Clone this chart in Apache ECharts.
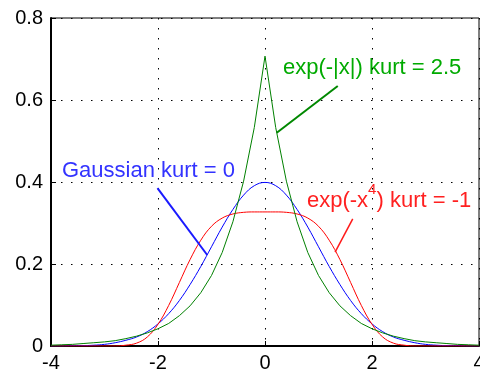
<!DOCTYPE html>
<html lang="en">
<head>
    <meta charset="UTF-8">
    <title>kurtosis</title>
    <script src="https://cdn.jsdelivr.net/npm/echarts@6/dist/echarts.min.js"></script>
    <style>
        html, body { margin: 0; padding: 0; background: #fff; }
        #main { width: 480px; height: 379px; }
    </style>
</head>
<body>
<div id="main"></div>
<script>
    // x positions, step 0.2 from -4 to 4
    var xs = [-4, -3.8, -3.6, -3.4, -3.2, -3, -2.8, -2.6, -2.4, -2.2, -2, -1.8, -1.6, -1.4, -1.2, -1, -0.8, -0.6, -0.4, -0.2,
        0, 0.2, 0.4, 0.6, 0.8, 1, 1.2, 1.4, 1.6, 1.8, 2, 2.2, 2.4, 2.6, 2.8, 3, 3.2, 3.4, 3.6, 3.8, 4];
    // values
    var gauss = [0.000, 0.000, 0.001, 0.001, 0.002, 0.004, 0.008, 0.014, 0.022, 0.035, 0.054, 0.079, 0.111, 0.150, 0.194, 0.242, 0.290, 0.333, 0.368, 0.391,
        0.399, 0.391, 0.368, 0.333, 0.290, 0.242, 0.194, 0.150, 0.111, 0.079, 0.054, 0.035, 0.022, 0.014, 0.008, 0.004, 0.002, 0.001, 0.001, 0.000, 0.000];
    var laplace = [0.002, 0.003, 0.004, 0.006, 0.008, 0.010, 0.013, 0.018, 0.024, 0.032, 0.042, 0.055, 0.074, 0.098, 0.130, 0.172, 0.228, 0.303, 0.402, 0.533,
        0.707, 0.533, 0.402, 0.303, 0.228, 0.172, 0.130, 0.098, 0.074, 0.055, 0.042, 0.032, 0.024, 0.018, 0.013, 0.010, 0.008, 0.006, 0.004, 0.003, 0.002];
    var quartic = [0, 0, 0, 0, 0, 0, 0.000, 0.002, 0.007, 0.022, 0.053, 0.099, 0.155, 0.211, 0.258, 0.292, 0.312, 0.322, 0.326, 0.327,
        0.327, 0.327, 0.326, 0.322, 0.312, 0.292, 0.258, 0.211, 0.155, 0.099, 0.053, 0.022, 0.007, 0.002, 0.000, 0, 0, 0, 0, 0, 0];

    // pointer lines for the labels, in data units
    var greenPtr = [[1.36, 0.634], [0.22, 0.52]];
    var bluePtr = [[-2.01, 0.385], [-1.08, 0.222]];
    var redPtr = [[1.64, 0.31], [1.31, 0.229]];

    function pairs(v) {
        var out = [];
        for (var i = 0; i < xs.length; i++) {
            out.push([xs[i], v[i]]);
        }
        return out;
    }

    var font = '"Liberation Sans", Arial, sans-serif';
    var dotted = { color: '#000', width: 1, type: [1.5, 8.5] };

    var myChart = echarts.init(document.getElementById('main'));
    var option = {
        animation: false,
        grid: { left: 51, right: 1, top: 18, bottom: 33, show: true, borderColor: '#000', borderWidth: 1,
            containLabel: false, outerBoundsMode: 'none' },
        xAxis: {
            type: 'value', min: -4, max: 4, interval: 2,
            axisLine: { onZero: false, lineStyle: { color: '#000', width: 2 } },
            axisTick: { inside: true, length: 5, lineStyle: { color: '#000' } },
            axisLabel: { color: '#000', fontSize: 20, fontFamily: font, margin: 7 },
            splitLine: { show: true, lineStyle: dotted }
        },
        yAxis: {
            type: 'value', min: 0, max: 0.8, interval: 0.2,
            axisLine: { show: true, onZero: false, lineStyle: { color: '#000', width: 2 } },
            axisTick: { show: true, inside: true, length: 5, lineStyle: { color: '#000' } },
            axisLabel: { color: '#000', fontSize: 20, fontFamily: font, margin: 8,
                formatter: function (v) { return v === 0 ? '0' : v.toFixed(1); } },
            splitLine: { show: true, lineStyle: dotted }
        },
        series: [
            { name: 'gauss', type: 'line', data: pairs(gauss), symbol: 'none', smooth: 0.4,
                lineStyle: { color: '#0000ff', width: 1 } },
            { name: 'quartic', type: 'line', data: pairs(quartic), symbol: 'none', smooth: 0.4,
                lineStyle: { color: '#ff0000', width: 1 } },
            { name: 'laplace', type: 'line', data: pairs(laplace), symbol: 'none',
                lineStyle: { color: '#008000', width: 1 } },
            { type: 'line', data: greenPtr, symbol: 'none', lineStyle: { color: '#008800', width: 2 } },
            { type: 'line', data: bluePtr, symbol: 'none', lineStyle: { color: '#1a1aff', width: 2 } },
            { type: 'line', data: redPtr, symbol: 'none', lineStyle: { color: '#ff1a1a', width: 1.5 } }
        ],
        graphic: [
            { type: 'text', left: 283, top: 57, style: { text: 'exp(-|x|) kurt = 2.5', fill: '#00aa00', font: '22px ' + font } },
            { type: 'text', left: 62, top: 160, style: { text: 'Gaussian kurt = 0', fill: '#3333ff', font: '22px ' + font } },
            { type: 'text', left: 307, top: 182, style: {
                text: '{b|exp(-x}{sup|4}{b|) kurt = -1}', fill: '#ff2020', font: '22px ' + font,
                rich: {
                    b: { fontSize: 22, fontFamily: font, fill: '#ff2020', verticalAlign: 'bottom', lineHeight: 30 },
                    sup: { fontSize: 15, fontFamily: font, fill: '#ff2020', verticalAlign: 'top', lineHeight: 30 }
                }
            } }
        ]
    };
    myChart.setOption(option);
</script>
</body>
</html>
